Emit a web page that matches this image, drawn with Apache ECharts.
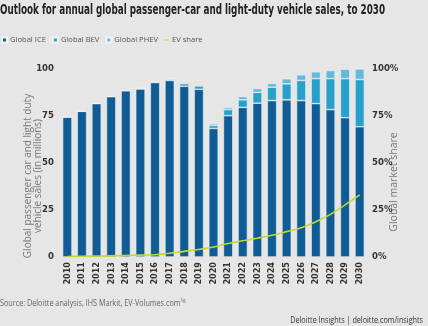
<!DOCTYPE html>
<html>
<head>
<meta charset="utf-8">
<script src="https://cdn.jsdelivr.net/npm/echarts@6/dist/echarts.min.js"></script>
<style>
  html, body { margin: 0; padding: 0; background: #e6e6e6; }
  #chart { width: 428px; height: 326px; }
</style>
</head>
<body>
<div id="chart"></div>
<script>
// Annual global sales (millions) by powertrain, and EV share of the market (%)
const years = ['2010','2011','2012','2013','2014','2015','2016','2017','2018','2019','2020',
               '2021','2022','2023','2024','2025','2026','2027','2028','2029','2030'];
const iceSales  = [74.5, 77.5, 81.6, 85.3, 88.4, 89.4, 92.8, 93.9, 90.8, 89.2, 68.4,
                   75.2, 79.6, 81.8, 83.2, 83.6, 83.2, 81.6, 78.4, 74.1, 69.3];
const bevSales  = [0.0, 0.0, 0.1, 0.1, 0.2, 0.3, 0.4, 0.7, 1.4, 1.8, 1.6,
                   3.2, 4.0, 5.8, 7.1, 8.5, 10.7, 13.3, 16.5, 20.8, 25.1];
const phevSales = [0.0, 0.0, 0.0, 0.1, 0.1, 0.2, 0.2, 0.3, 0.6, 0.6, 0.9,
                   1.1, 1.7, 2.0, 2.0, 2.7, 3.0, 3.6, 4.3, 5.0, 5.6];
const evShare   = [0.3, 0.4, 0.5, 0.6, 0.8, 1.0, 1.2, 2.0, 3.0, 4.0, 5.3,
                   7.2, 8.6, 10.0, 11.6, 13.5, 15.6, 18.8, 22.7, 27.7, 33.0];
const leftTicks = [0, 25, 50, 75, 100];
const rightTicks = [0, 25, 50, 75, 100];

const titleText = 'Outlook for annual global passenger-car and light-duty vehicle sales, to 2030';
const narrow = '"DejaVu Sans Condensed", "DejaVu Sans", sans-serif';
const body = '"Open Sans", "Noto Sans", sans-serif';

// Squeeze the headline to a fixed width with a horizontal scale
const titleFont = 'condensed bold 14px "DejaVu Sans", sans-serif';
const measureCtx = document.createElement('canvas').getContext('2d');
measureCtx.font = titleFont;
const titleScale = 385 / measureCtx.measureText(titleText).width;

const chart = echarts.init(document.getElementById('chart'), null, { renderer: 'canvas' });

const barStyle = (color) => ({ color: color, borderColor: '#f2f2f2', borderWidth: 0.6 });

chart.setOption({
  backgroundColor: '#e6e6e6',
  animation: false,
  legend: {
    left: 1, top: 36, padding: 0,
    itemWidth: 5, itemHeight: 5, itemGap: 6,
    textStyle: { fontFamily: body, fontSize: 7.6, color: '#555', padding: [0, 0, 0, -2] },
    data: [
      { name: 'Global ICE', icon: 'rect' },
      { name: 'Global BEV', icon: 'rect' },
      { name: 'Global PHEV', icon: 'rect' },
      { name: 'EV share', icon: 'path://M0,0H10V2H0Z' }
    ]
  },
  grid: { left: 60, right: 61, top: 69, bottom: 69 },
  xAxis: {
    type: 'category',
    data: years,
    axisLine: { show: false },
    axisTick: { show: false },
    axisLabel: {
      rotate: 90, margin: 5, interval: 0,
      fontFamily: narrow, fontStyle: 'condensed', fontWeight: 'bold', fontSize: 9, color: '#333'
    }
  },
  yAxis: [
    {
      type: 'value', min: leftTicks[0], max: leftTicks[leftTicks.length - 1], interval: 25,
      splitLine: { show: false },
      axisLabel: { margin: 6, fontFamily: narrow, fontStyle: 'condensed', fontWeight: 'bold', fontSize: 9.5, color: '#333' }
    },
    {
      type: 'value', min: rightTicks[0], max: rightTicks[rightTicks.length - 1], interval: 25,
      splitLine: { show: false },
      axisLabel: { margin: 5, formatter: '{value}%', fontFamily: narrow, fontStyle: 'condensed', fontWeight: 'bold', fontSize: 9.5, color: '#333' }
    }
  ],
  graphic: [
    {
      type: 'text', x: 0, y: 3, scaleX: titleScale,
      style: { text: titleText, font: titleFont, fill: '#222' }
    },
    {
      type: 'text', x: 33, y: 176, rotation: Math.PI / 2,
      style: {
        text: 'Global passenger car and light duty\nvehicle sales (in millions)',
        fontFamily: body, fontSize: 10, lineHeight: 9.5, fill: '#777',
        textAlign: 'center', textVerticalAlign: 'middle'
      }
    },
    {
      type: 'text', x: 394, y: 182, rotation: Math.PI / 2,
      style: {
        text: 'Global market share',
        fontFamily: body, fontSize: 10.5, fill: '#777',
        textAlign: 'center', textVerticalAlign: 'middle'
      }
    },
    {
      type: 'text', x: 0, y: 299, scaleX: 0.85,
      style: {
        text: 'Source: Deloitte analysis, IHS Markit, EV-Volumes.com\u00b9\u2076',
        fontFamily: body, fontSize: 8.5, fill: '#666'
      }
    },
    {
      type: 'text', x: 423, y: 316, scaleX: 0.85,
      style: {
        text: 'Deloitte Insights | deloitte.com/insights',
        fontFamily: body, fontSize: 8.5, fill: '#333', textAlign: 'right'
      }
    }
  ],
  series: [
    { name: 'Global ICE', type: 'bar', stack: 'sales', data: iceSales, barCategoryGap: '36%',
      itemStyle: barStyle('#0f5c97') },
    { name: 'Global BEV', type: 'bar', stack: 'sales', data: bevSales,
      itemStyle: barStyle('#27a0cc') },
    { name: 'Global PHEV', type: 'bar', stack: 'sales', data: phevSales,
      itemStyle: barStyle('#66b7dc') },
    { name: 'EV share', type: 'line', yAxisIndex: 1, data: evShare, smooth: true,
      symbol: 'none', z: 5,
      lineStyle: { color: '#c2d82e', width: 1.6 }, itemStyle: { color: '#c2d82e' } }
  ]
});
</script>
</body>
</html>
